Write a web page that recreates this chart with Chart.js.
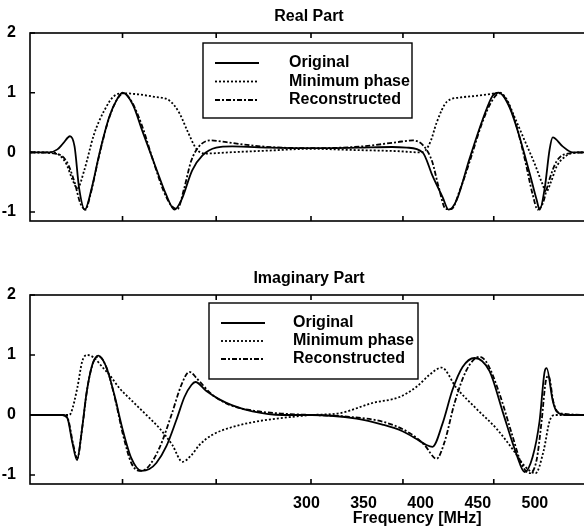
<!DOCTYPE html>
<html>
<head>
<meta charset="utf-8">
<script src="https://cdn.jsdelivr.net/npm/chart.js@4.4.0/dist/chart.umd.min.js"></script>
<style>
  html, body { margin: 0; padding: 0; background: #fff; }
  #wrap { position: relative; width: 584px; height: 529px; overflow: hidden; background: #fff; }
  canvas { position: absolute; left: 0; }
</style>
</head>
<body>
<div id="wrap">
  <canvas id="real" width="600" height="250" style="top:0"></canvas>
  <canvas id="imag" width="600" height="274" style="top:255px"></canvas>
</div>
<script>
// values (frequency in MHz, amplitude)
let seriesNames = ['Original', 'Minimum phase', 'Reconstructed'];
let xLabels = [300, 350, 400, 450, 500];
let xMarks = [139, 221, 304, 384.5, 464];
let yTickVals = [2, 1, 0, -1];

// real part
let reOrigF = [58, 75, 82, 87, 93, 97, 101, 106, 112, 119, 127.5, 134.5, 139, 148, 156.5, 169, 177, 184.5, 190.5, 200,
  209, 221, 235, 267.5, 304.5, 345, 375, 387.7, 401.7, 410.5, 419.2, 424.5, 431.5, 442.9, 454.3, 463, 468.3, 477.9, 486.7, 495.4,
  501.6, 504.2, 508.6, 512.9, 515.6, 524.3, 533, 550];
let reOrigV = [0, 0, 0.05, 0.15, 0.27, 0.1, -0.6, -0.96, -0.6, 0, 0.6, 0.9, 1.0, 0.8, 0.35, -0.3, -0.7, -0.96, -0.8, -0.3,
  -0.05, 0.08, 0.1, 0.08, 0.07, 0.08, 0.09, 0.08, 0, -0.4, -0.75, -0.96, -0.8, -0.1, 0.55, 0.95, 1.0, 0.75, 0.25, -0.35,
  -0.8, -0.96, -0.6, 0.05, 0.25, 0.1, 0, 0];

let reMinF = [58, 75, 84, 90, 95, 99.5, 105.5, 114, 123, 132, 140.5, 153.5, 167, 180, 189, 196, 204, 211, 232, 267,
  304, 340, 380, 399, 404, 409, 414, 423, 435, 450, 462, 469, 475, 482, 491, 500, 506, 510, 514, 519, 528, 539, 550];
let reMinV = [0, 0, -0.05, -0.2, -0.45, -0.6, -0.3, 0.3, 0.7, 0.95, 0.99, 0.97, 0.93, 0.87, 0.65, 0.35, 0.05, -0.02, 0, 0.03,
  0.06, 0.04, 0.02, 0, 0.03, 0.2, 0.5, 0.85, 0.92, 0.95, 0.98, 1.0, 0.9, 0.6, 0.2, -0.2, -0.5, -0.66, -0.5, -0.24, -0.05, 0, 0];

let reRecF = [58, 80, 90, 97, 102, 106.5, 111, 118, 126, 134, 140, 147, 156, 166, 175, 182, 187, 193, 199, 206,
  216, 230, 260, 304, 349, 379, 393, 403, 410, 416, 422, 427, 434, 443, 453, 462, 469, 475, 483, 491,
  498, 502.5, 507, 512, 519, 529, 550];
let reRecV = [0, -0.02, -0.15, -0.5, -0.85, -0.96, -0.7, -0.1, 0.5, 0.88, 0.99, 0.85, 0.45, -0.15, -0.65, -0.9, -0.95, -0.6, -0.15, 0.1,
  0.2, 0.17, 0.1, 0.07, 0.1, 0.17, 0.2, 0.1, -0.15, -0.6, -0.95, -0.95, -0.65, -0.15, 0.45, 0.85, 0.99, 0.88, 0.5, -0.1,
  -0.7, -0.96, -0.85, -0.5, -0.15, -0.02, 0];

// imaginary part
let imOrigF = [58, 86.3, 90.7, 95, 99.2, 102.9, 107.3, 112.6, 117.8, 124.8, 131.8, 138.8, 146.7, 155.5, 162.5, 168.6, 177.4, 186.2, 193.2, 199.3,
  202.8, 212.4, 223.8, 235.2, 252.7, 279, 304.4, 343.8, 366.6, 384.1, 396.4, 405.1, 410.4, 419.2, 427.9, 436.7, 447.2, 460.3, 471.7, 484,
  491, 498, 504.1, 508.5, 510.3, 515.5, 519, 527.8, 550];
let imOrigV = [0, 0, -0.05, -0.45, -0.75, -0.33, 0.34, 0.84, 0.99, 0.8, 0.34, -0.22, -0.72, -0.93, -0.9, -0.8, -0.52, -0.08, 0.3, 0.5,
  0.55, 0.4, 0.26, 0.16, 0.06, 0, 0, -0.06, -0.16, -0.27, -0.4, -0.5, -0.53, -0.14, 0.42, 0.8, 0.95, 0.73, 0.06, -0.66,
  -0.95, -0.7, -0.1, 0.72, 0.78, 0.25, 0.06, 0, 0];

let imMinF = [58, 92.4, 94.2, 99.4, 103.8, 108.2, 114.3, 121.3, 127.5, 136.2, 147.6, 159.9, 171.3, 182.6, 191.4, 199.3, 206.3, 217.7, 235.2, 258.9,
  287.8, 304.4, 329, 357.8, 381.5, 396.4, 407.8, 418.3, 431.4, 449, 466.5, 480.5, 491, 500.6, 507.6, 512.9, 517.3, 550];
let imMinV = [0, 0, 0.05, 0.45, 0.9, 1.0, 0.95, 0.8, 0.67, 0.45, 0.23, 0, -0.22, -0.5, -0.78, -0.67, -0.5, -0.33, -0.2, -0.1,
  -0.03, 0, 0.03, 0.2, 0.3, 0.47, 0.67, 0.79, 0.45, 0.1, -0.23, -0.57, -0.85, -0.97, -0.6, -0.1, 0, 0];

let imRecF = [58, 87.2, 91.5, 95.9, 99.4, 103.8, 108.2, 113.4, 118.7, 125.7, 132.7, 139.7, 146.7, 153.7, 160.7, 171.3, 181.8, 190.5, 197.5, 204.5,
  216.8, 232.6, 254.5, 280.8, 304.4, 337.7, 368.4, 390.3, 403.4, 413.9, 420.9, 429.7, 440.2, 451.6, 458.6, 469.1, 479.6, 488.4, 495.4, 501.5,
  505.9, 509.4, 512, 516.4, 521.7, 550];
let imRecV = [0, 0, -0.08, -0.5, -0.72, -0.2, 0.45, 0.88, 0.97, 0.75, 0.25, -0.35, -0.8, -0.93, -0.88, -0.55, 0, 0.5, 0.72, 0.6,
  0.35, 0.17, 0.07, 0.02, 0, -0.03, -0.12, -0.3, -0.5, -0.73, -0.45, 0.2, 0.75, 0.97, 0.85, 0.35, -0.3, -0.82, -0.97, -0.75,
  -0.1, 0.55, 0.65, 0.2, 0.03, 0];

const FONT = '"Liberation Sans", Arial, Helvetica, sans-serif';
Chart.defaults.font.family = FONT;
Chart.defaults.font.size = 16;
Chart.defaults.font.weight = 'bold';
Chart.defaults.color = '#000';

const pts = (fs, vs) => fs.map((f, i) => ({x: f, y: vs[i]}));
const dashes = [[], [2, 2], [5, 2, 2, 2]];

function makeSets(groups) {
  return groups.map((g, i) => ({
    label: seriesNames[i],
    data: pts(g[0], g[1]),
    borderColor: '#000',
    borderWidth: 1.8,
    borderDash: dashes[i],
    pointRadius: 0,
    fill: false,
    cubicInterpolationMode: 'monotone'
  }));
}

// frame, inward ticks, title, boxed legend
const panel = {
  id: 'panel',
  afterDraw(chart, args, o) {
    let ctx = chart.ctx, a = chart.chartArea, x = chart.scales.x, y = chart.scales.y;
    ctx.save();
    ctx.strokeStyle = '#000';
    ctx.fillStyle = '#000';
    ctx.lineWidth = 1.6;
    ctx.strokeRect(a.left, a.top, a.right - a.left, a.bottom - a.top);
    ctx.beginPath();
    xMarks.forEach(f => {
      let px = x.getPixelForValue(f);
      ctx.moveTo(px, a.top); ctx.lineTo(px, a.top + 5);
      ctx.moveTo(px, a.bottom); ctx.lineTo(px, a.bottom - 5);
    });
    yTickVals.forEach(v => {
      let py = y.getPixelForValue(v);
      ctx.moveTo(a.left, py); ctx.lineTo(a.left + 5, py);
      ctx.moveTo(a.right, py); ctx.lineTo(a.right - 5, py);
    });
    ctx.stroke();

    ctx.font = 'bold 16px ' + FONT;
    ctx.textBaseline = 'middle';
    ctx.textAlign = 'center';
    ctx.fillText(o.title, (a.left + a.right) / 2 - 2, a.top - 16);
    if (o.xTitle) ctx.fillText(o.xTitle, x.getPixelForValue(o.xTitleAt), o.xTitleY);

    let L = o.legend;
    ctx.fillStyle = '#fff';
    ctx.fillRect(L.x, L.y, L.w, L.h);
    ctx.fillStyle = '#000';
    ctx.lineWidth = 1.4;
    ctx.strokeRect(L.x, L.y, L.w, L.h);
    chart.data.datasets.forEach((ds, i) => {
      let yy = L.y + L.rowTop + i * L.row;
      ctx.lineWidth = ds.borderWidth;
      ctx.setLineDash(ds.borderDash);
      ctx.beginPath();
      ctx.moveTo(L.x + 12, yy); ctx.lineTo(L.x + 56, yy);
      ctx.stroke();
      ctx.setLineDash([]);
      ctx.textAlign = 'left';
      ctx.fillText(ds.label, L.x + L.textX, yy);
    });
    ctx.restore();
  }
};

function makeOptions(cfg) {
  return {
    responsive: false,
    animation: false,
    devicePixelRatio: 1,
    layout: { padding: { top: cfg.top, left: 0, right: 8, bottom: 0 } },
    scales: {
      x: {
        type: 'linear', min: 58, max: 550,
        grid: { display: false }, border: { display: false },
        ticks: { display: cfg.showX, padding: 2, maxRotation: 0, autoSkip: false },
        afterBuildTicks: s => { s.ticks = xLabels.map(v => ({value: v})); },
        afterFit: s => { s.height = cfg.xh; }
      },
      y: {
        min: -1.15, max: 2,
        grid: { display: false }, border: { display: false },
        ticks: { padding: 6 },
        afterBuildTicks: s => { s.ticks = yTickVals.map(v => ({value: v})); },
        afterFit: s => { s.width = 30; }
      }
    },
    plugins: {
      legend: { display: false },
      tooltip: { enabled: false },
      panel: cfg.panel
    }
  };
}

let realPart = new Chart(document.getElementById('real').getContext('2d'), {
  type: 'line',
  data: { datasets: makeSets([[reOrigF, reOrigV], [reMinF, reMinV], [reRecF, reRecV]]) },
  options: makeOptions({
    top: 33, xh: 29, showX: false,
    panel: { title: 'Real Part', legend: { x: 203, y: 43, w: 209, h: 75, rowTop: 20, row: 18.5, textX: 86 } }
  }),
  plugins: [panel]
});

let imagPart = new Chart(document.getElementById('imag').getContext('2d'), {
  type: 'line',
  data: { datasets: makeSets([[imOrigF, imOrigV], [imMinF, imMinV], [imRecF, imRecV]]) },
  options: makeOptions({
    top: 40, xh: 45, showX: true,
    panel: { title: 'Imaginary Part', xTitle: 'Frequency [MHz]', xTitleAt: 397, xTitleY: 264,
      legend: { x: 209, y: 48, w: 209, h: 76, rowTop: 20, row: 18, textX: 84 } }
  }),
  plugins: [panel]
});
</script>
</body>
</html>
